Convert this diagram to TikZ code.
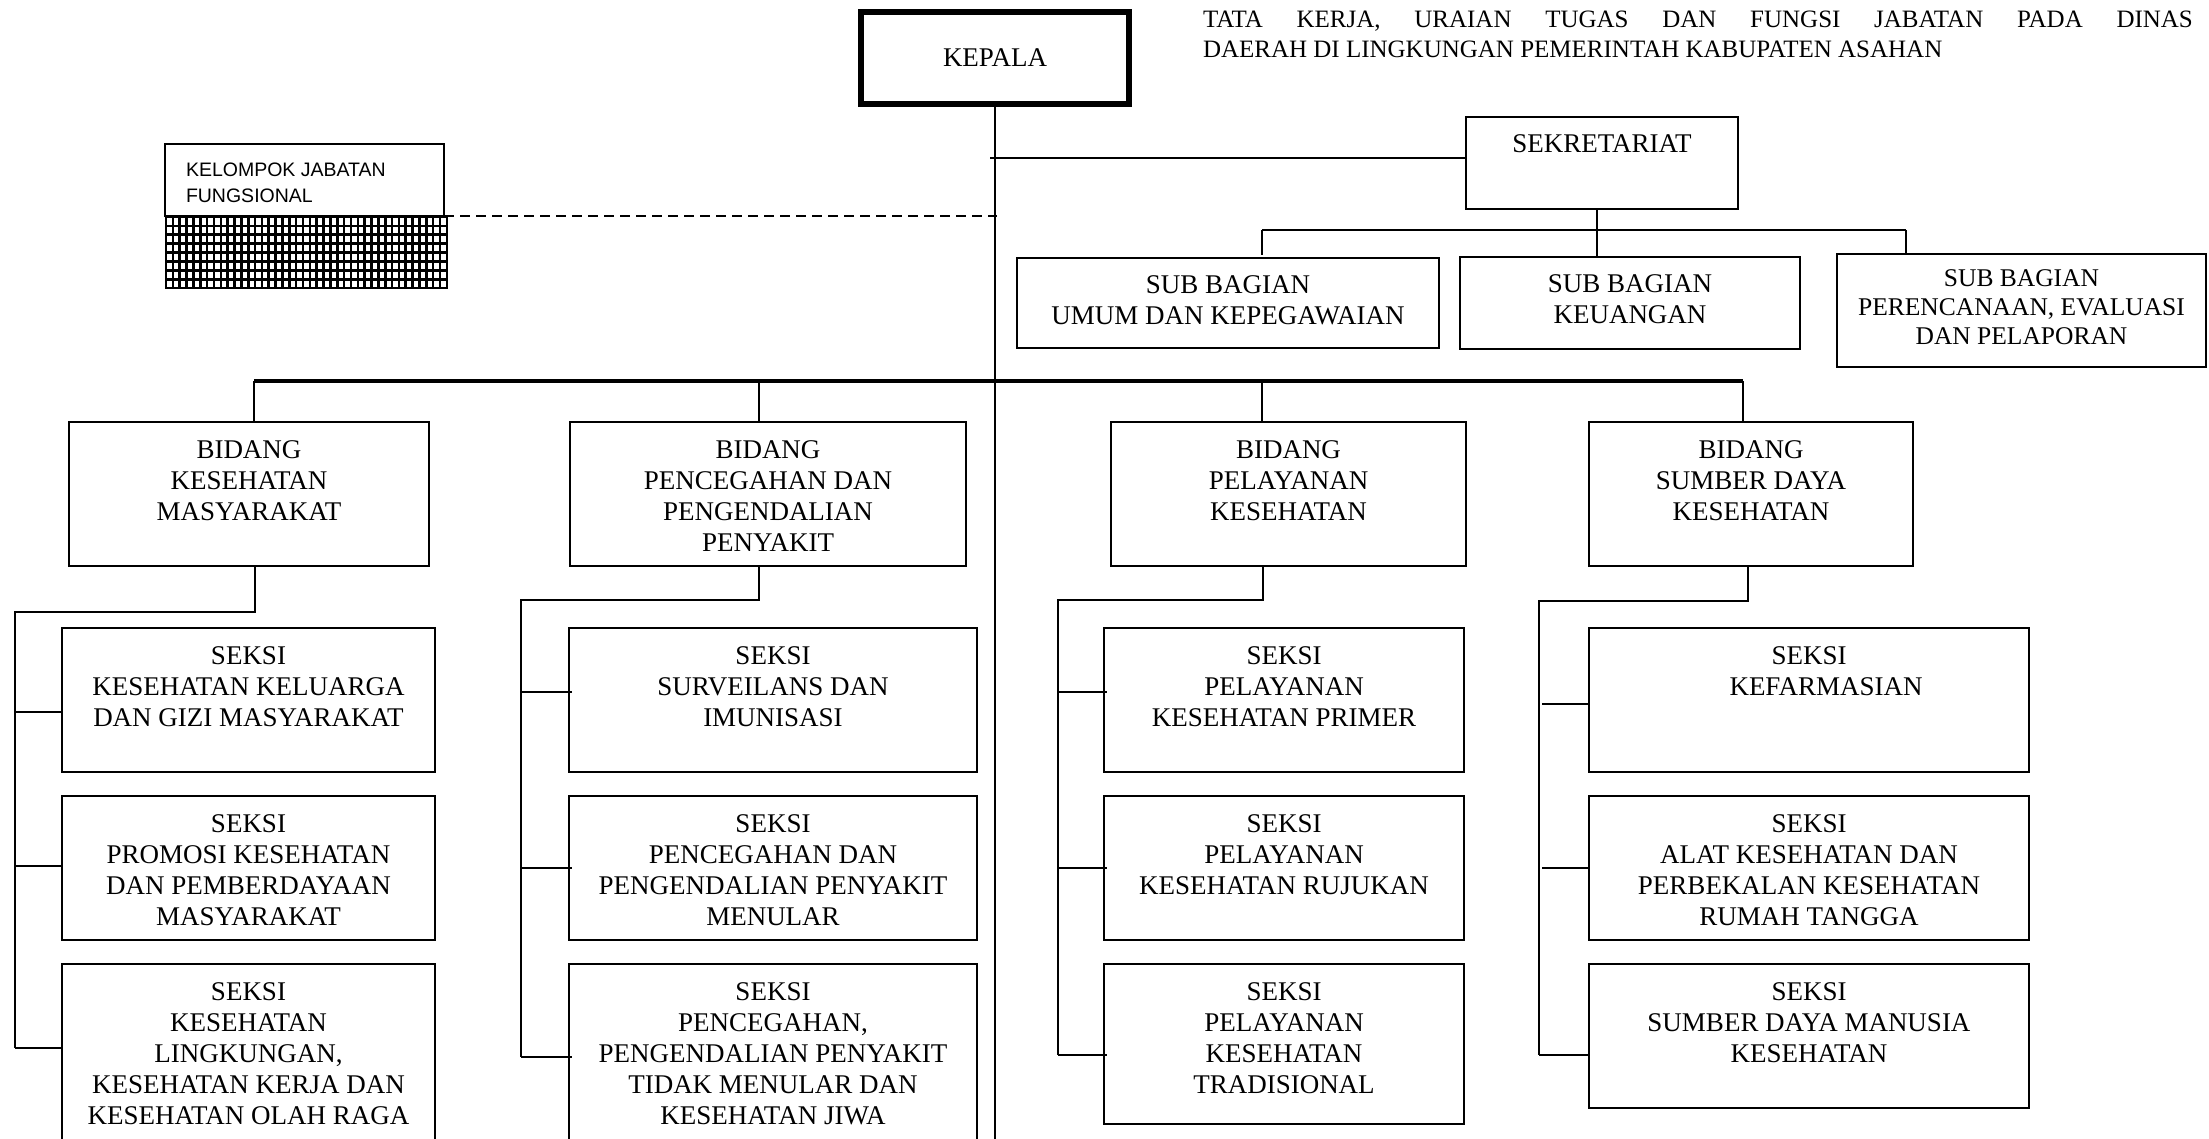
\documentclass[tikz,border=0pt]{standalone}
\usepackage{fontspec}
\setmainfont{Liberation Serif}
\newfontfamily\kjfont{Liberation Sans}
% box content: fixed width/height, centred lines, first baseline #3pt below the top
\newcommand\boxlabelat[4]{\parbox[c][#2pt][t]{#1pt}{\centering\rule{0pt}{#3pt}#4\par}}
\newcommand\boxlabel[3]{\boxlabelat{#1}{#2}{36}{#3}}
\begin{document}
\begin{tikzpicture}[x=1pt,y=-1pt,
  every node/.style={inner sep=0pt, outer sep=0pt, font=\fontsize{27}{31}\selectfont},
  unitbox/.style={draw, line width=2.4pt, anchor=north west},
  link/.style={line width=2pt},
  bus/.style={line width=3.2pt},
  grid line/.style={line width=2.6pt}]
\useasboundingbox (0,0) rectangle (2209,1139);
\fill[white] (0,0) rectangle (2209,1139);
\clip (0,0) rectangle (2209,1139);

% ---- head of office and title ----
\node[draw, line width=6pt, minimum width=268pt, minimum height=92pt] (kepala) at (995,58) {KEPALA};
\node[anchor=base west] (title) at (1203,28)
  {\parbox[t]{990pt}{\fontsize{25}{30}\selectfont TATA KERJA, URAIAN TUGAS DAN FUNGSI JABATAN PADA DINAS\linebreak DAERAH DI LINGKUNGAN PEMERINTAH KABUPATEN ASAHAN}};

% ---- functional group ----
\node[draw, line width=2pt, anchor=north west] (kjf) at (165,144)
  {\parbox[c][72pt][t]{279pt}{\kjfont\fontsize{19.5}{26}\selectfont\leftskip=21pt\rule{0pt}{33pt}KELOMPOK JABATAN\\FUNGSIONAL\par}};
\fill[white] (166,216) rectangle (447,289);
\foreach \i in {0,...,41} \draw[grid line] ({166+\i*6.85},216) -- ++(0,73);
\foreach \j in {0,...,8} \draw[grid line] (165,{217+\j*8.9}) -- ++(283,0);

% ---- secretariat ----
\node[unitbox] (sek) at (1466,117) {\boxlabel{272}{92}{SEKRETARIAT}};
\node[unitbox] (umum) at (1017,258) {\boxlabel{422}{90}{SUB BAGIAN\\UMUM DAN KEPEGAWAIAN}};
\node[unitbox] (keu) at (1460,257) {\boxlabel{340}{92}{SUB BAGIAN\\KEUANGAN}};
\node[unitbox, font=\fontsize{25.5}{29}\selectfont] (ren) at (1837,254)
  {\boxlabelat{369}{113}{33}{SUB BAGIAN\\PERENCANAAN, EVALUASI\\DAN PELAPORAN}};

% ---- divisions ----
\node[unitbox] (b1) at (69,422) {\boxlabel{360}{144}{BIDANG\\KESEHATAN\\MASYARAKAT}};
\node[unitbox] (b2) at (570,422) {\boxlabel{396}{144}{BIDANG\\PENCEGAHAN DAN\\PENGENDALIAN\\PENYAKIT}};
\node[unitbox] (b3) at (1111,422) {\boxlabel{355}{144}{BIDANG\\PELAYANAN\\KESEHATAN}};
\node[unitbox] (b4) at (1589,422) {\boxlabel{324}{144}{BIDANG\\SUMBER DAYA\\KESEHATAN}};

% ---- sections ----
\node[unitbox] (s11) at (62,628) {\boxlabel{373}{144}{SEKSI\\KESEHATAN KELUARGA\\DAN GIZI MASYARAKAT}};
\node[unitbox] (s12) at (62,796) {\boxlabel{373}{144}{SEKSI\\PROMOSI KESEHATAN\\DAN PEMBERDAYAAN\\MASYARAKAT}};
\node[unitbox] (s13) at (62,964) {\boxlabel{373}{200}{SEKSI\\KESEHATAN\\LINGKUNGAN,\\KESEHATAN KERJA DAN\\KESEHATAN OLAH RAGA}};

\node[unitbox] (s21) at (569,628) {\boxlabel{408}{144}{SEKSI\\SURVEILANS DAN\\IMUNISASI}};
\node[unitbox] (s22) at (569,796) {\boxlabel{408}{144}{SEKSI\\PENCEGAHAN DAN\\PENGENDALIAN PENYAKIT\\MENULAR}};
\node[unitbox] (s23) at (569,964) {\boxlabel{408}{200}{SEKSI\\PENCEGAHAN,\\PENGENDALIAN PENYAKIT\\TIDAK MENULAR DAN\\KESEHATAN JIWA}};

\node[unitbox] (s31) at (1104,628) {\boxlabel{360}{144}{SEKSI\\PELAYANAN\\KESEHATAN PRIMER}};
\node[unitbox] (s32) at (1104,796) {\boxlabel{360}{144}{SEKSI\\PELAYANAN\\KESEHATAN RUJUKAN}};
\node[unitbox] (s33) at (1104,964) {\boxlabel{360}{160}{SEKSI\\PELAYANAN\\KESEHATAN\\TRADISIONAL}};

\node[unitbox] (s41) at (1589,628) {\boxlabel{440}{144}{SEKSI\\\hspace*{34pt}KEFARMASIAN}};
\node[unitbox] (s42) at (1589,796) {\boxlabel{440}{144}{SEKSI\\ALAT KESEHATAN DAN\\PERBEKALAN KESEHATAN\\RUMAH TANGGA}};
\node[unitbox] (s43) at (1589,964) {\boxlabel{440}{144}{SEKSI\\SUMBER DAYA MANUSIA\\KESEHATAN}};

% ---- main spine and secretariat links ----
\coordinate (spineEnd) at (995,1139);
\draw[link] (kepala.south) -- (spineEnd);
\coordinate (sekTap) at (990,158);
\draw[line width=2.4pt] (sekTap) -- (sekTap -| sek.west);
\coordinate (dashEnd) at (997,216);
\draw[line width=2pt, dash pattern=on 10pt off 6pt] (kjf.south east) -- (dashEnd);

\coordinate (sbL) at (1262,230);
\coordinate (sbR) at (1906,230);
\coordinate (sbM) at (1597,230);
\draw[line width=2.4pt] (sbL) -- (sbR);
\draw[link] (sek.south -| sbM) -- (keu.north -| sbM);
\draw[link] (sbL) -- ++(0,25);
\draw[link] (sbR) -- (ren.north -| sbR);

% ---- division bus ----
\coordinate (d1) at (254,381);
\coordinate (d2) at (759,381);
\coordinate (d3) at (1262,381);
\coordinate (d4) at (1743,381);
\draw[bus] (d1) -- (d4);
\draw[link] (d1) -- (d1 |- b1.north);
\draw[link] (d2) -- (d2 |- b2.north);
\draw[line width=1.2pt] (d3) -- (d3 |- b3.north);
\draw[link] (d4) -- (d4 |- b4.north);

% ---- section rails ----
% column 1
\coordinate (k1) at (255,612);
\coordinate (r1) at (15,612);
\draw[link] (b1.south -| k1) -- (k1) -- (r1) -- (15,1048);
\draw[link] (15,712) -- (s11.west |- 0,712);
\draw[link] (15,866) -- (s12.west |- 0,866);
\draw[link] (15,1048) -- (s13.west |- 0,1048);
% column 2
\coordinate (k2) at (759,600);
\coordinate (r2) at (521,600);
\draw[link] (b2.south -| k2) -- (k2) -- (r2) -- (521,1057);
\draw[link] (521,692) -- (572,692);
\draw[link] (521,868) -- (572,868);
\draw[link] (521,1057) -- (572,1057);
% column 3
\coordinate (k3) at (1263,600);
\coordinate (r3) at (1058,600);
\draw[link] (b3.south -| k3) -- (k3) -- (r3) -- (1058,1055);
\draw[link] (1058,692) -- (1107,692);
\draw[link] (1058,868) -- (1107,868);
\draw[link] (1058,1055) -- (1107,1055);
% column 4
\coordinate (k4) at (1748,601);
\coordinate (r4) at (1539,601);
\draw[link] (b4.south -| k4) -- (k4) -- (r4) -- (1539,1055);
\draw[link] (1542,704) -- (s41.west |- 0,704);
\draw[link] (1542,868) -- (s42.west |- 0,868);
\draw[link] (1539,1055) -- (s43.west |- 0,1055);
\end{tikzpicture}
\end{document}
